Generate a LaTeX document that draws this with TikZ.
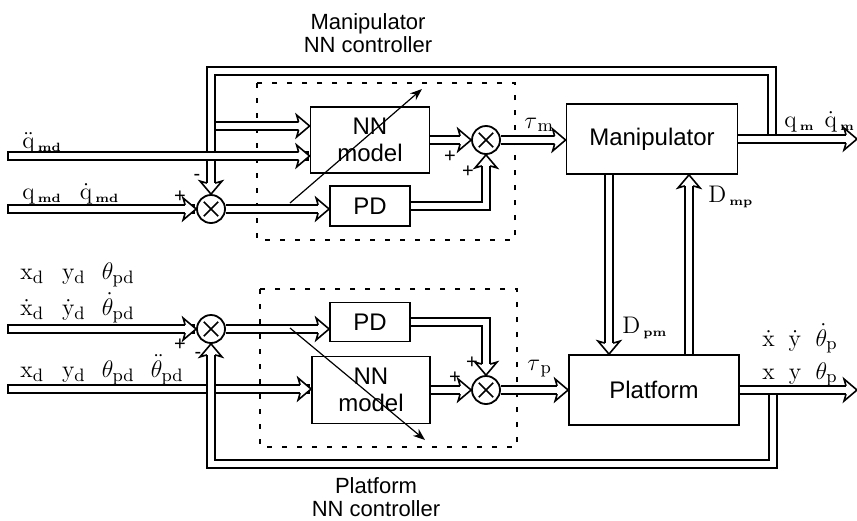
\documentclass[tikz,border=0pt]{standalone}
\usepackage[no-math]{fontspec}
\setmainfont{Liberation Sans}
\usepackage{amsmath}
\usetikzlibrary{arrows.meta,positioning,calc}

\tikzset{
  block/.style 2 args={draw,line width=0.9pt,minimum width=#1,minimum height=#2,
    inner sep=0pt,align=center,font=\fontsize{12}{13.5}\selectfont},
  summer/.style={draw,circle,line width=0.9pt,minimum size=14pt,inner sep=0pt,
    path picture={
      \draw[line width=0.8pt] ([shift={(-3.6pt,-3.6pt)}]path picture bounding box.center)
        -- ([shift={(3.6pt,3.6pt)}]path picture bounding box.center);
      \draw[line width=0.8pt] ([shift={(-3.6pt,3.6pt)}]path picture bounding box.center)
        -- ([shift={(3.6pt,-3.6pt)}]path picture bounding box.center);}},
  pipe/.style={double,double distance=3.4pt,line width=0.8pt,shorten >=3pt},
  head/.pic={
    \fill[white] (-5.5pt,2.6pt) -- (-6.5pt,5.5pt) -- (0pt,0pt) -- (-6.5pt,-5.5pt)
      -- (-5.5pt,-2.6pt) -- cycle;
    \draw[line width=0.8pt,line join=miter] (-5.5pt,2.1pt) -- (-6.5pt,5.5pt) -- (0pt,0pt)
      -- (-6.5pt,-5.5pt) -- (-5.5pt,-2.1pt);},
  tune/.style={line width=0.6pt,-{Stealth[length=6pt,width=4.5pt]}},
  ctrlbox/.style={line width=0.7pt,dash pattern=on 2.5pt off 5pt},
  lbl/.style={inner sep=0pt,anchor=base west,font=\fontsize{13}{14}\selectfont},
  sgn/.style={inner sep=0pt,font=\fontsize{10}{12}\selectfont},
  ttl/.style={align=center,inner sep=0pt,font=\fontsize{11}{11.5}\selectfont}
}
\newcommand{\rv}[1]{\mathrm{#1}}
\newcommand{\tinysub}[1]{_{\,\scriptscriptstyle\mathbf{#1}}}

\begin{document}
\begin{tikzpicture}[x=0.5pt,y=-0.5pt]
    \useasboundingbox (0,0) rectangle (857,520);

    % controller frames
    \draw[ctrlbox] (257,83) rectangle (515,240);
    \draw[ctrlbox] (260,289) rectangle (517,447);

    % manipulator loop
    \node[block={59.5pt}{33pt}] (nnA) at (370,140) {NN\\model};
    \node[block={40pt}{20pt}] (pdA) at (370,206) {PD};
    \node[summer] (sumA) at (211,209) {};
    \node[summer] (sumB) at (486,140) {};
    \node[block={85.5pt}{35pt}] (manip) at (652,139) {Manipulator};

    % platform loop
    \node[summer] (sumC) at (211,329) {};
    \node[block={40pt}{19.5pt}] (pdB) at (370,322) {PD};
    \node[block={59pt}{33.5pt}] (nnB) at (371,390) {NN\\model};
    \node[summer] (sumD) at (486,390) {};
    \node[block={85pt}{35pt}] (platf) at (654,390) {Platform};

    \coordinate (brA) at (211,126);
    \coordinate (fbA) at (772,71);
    \coordinate (qddA) at (12,156);
    \coordinate (qA) at (12,209);
    \coordinate (outA) at (857,0);
    \coordinate (pmx) at (609,0);
    \coordinate (mpx) at (689,0);
    \coordinate (xdC) at (12,329);
    \coordinate (xdB) at (12,389);
    \coordinate (fbB) at (773,464);

    \draw[pipe] (brA) -- (brA -| nnA.west);
    \pic at (brA -| nnA.west) {head};
    \draw[pipe] (manip.east -| fbA) -- (fbA) -| (sumA.north);
    \pic[rotate=-90] at (sumA.north) {head};
    \draw[pipe] (manip.east) -- (manip.east -| outA);
    \pic at (manip.east -| outA) {head};
    \draw[pipe,line cap=rect] (qddA) -- (qddA -| nnA.west);
    \pic at (qddA -| nnA.west) {head};
    \draw[pipe,line cap=rect] (qA) -- (sumA.west);
    \pic at (sumA.west) {head};
    \draw[pipe] (sumA.east) -- (sumA.east -| pdA.west);
    \pic at (sumA.east -| pdA.west) {head};
    \draw[pipe] (nnA.east) -- (sumB.west);
    \pic at (sumB.west) {head};
    \draw[pipe] (pdA.east) -| (sumB.south);
    \pic[rotate=90] at (sumB.south) {head};
    \draw[pipe] (sumB.east) -- (sumB.east -| manip.west);
    \pic at (sumB.east -| manip.west) {head};

    \draw[pipe] (manip.south -| pmx) -- (platf.north -| pmx);
    \pic[rotate=-90] at (platf.north -| pmx) {head};
    \draw[pipe] (platf.north -| mpx) -- (manip.south -| mpx);
    \pic[rotate=90] at (manip.south -| mpx) {head};

    \draw[pipe,line cap=rect] (xdC) -- (sumC.west);
    \pic at (sumC.west) {head};
    \draw[pipe] (sumC.east) -- (sumC.east -| pdB.west);
    \pic at (sumC.east -| pdB.west) {head};
    \draw[pipe,line cap=rect] (xdB) -- (xdB -| nnB.west);
    \pic at (xdB -| nnB.west) {head};
    \draw[pipe] (platf.east -| fbB) -- (fbB) -| (sumC.south);
    \pic[rotate=90] at (sumC.south) {head};
    \draw[pipe] (platf.east) -- (platf.east -| outA);
    \pic at (platf.east -| outA) {head};
    \draw[pipe] (nnB.east) -- (sumD.west);
    \pic at (sumD.west) {head};
    \draw[pipe] (pdB.east) -| (sumD.north);
    \pic[rotate=-90] at (sumD.north) {head};
    \draw[pipe] (sumD.east) -- (platf.west);
    \pic at (platf.west) {head};

    % weight tuning
    \coordinate (tnA1) at (290,203);
    \coordinate (tnA2) at (422,89);
    \coordinate (tnB1) at (290,328);
    \coordinate (tnB2) at (425,440);
    \draw[tune] (tnA1) -- (tnA2);
    \draw[tune] (tnB1) -- (tnB2);

    % signals
    \node[lbl] (lqdd) at (22,148) {$\ddot{\rv{q}}\tinysub{md}$};
    \node[lbl] (lq) at (22,199) {$\rv{q}\tinysub{md}\hspace{9pt}\dot{\rv{q}}\tinysub{md}$};
    \node[lbl] (ltm) at (524,128) {$\tau_{\,\rv{m}}$};
    \node[lbl] (lqm) at (784,127) {$\rv{q}\tinysub{m}\hspace{5pt}\dot{\rv{q}}\tinysub{m}$};
    \node[lbl] (ldmp) at (708,202) {$\rv{D}\tinysub{mp}$};
    \node[lbl] (ldpm) at (622,333) {$\rv{D}\tinysub{pm}$};
    \node[lbl] (lx1) at (20,279) {$\rv{x}_{\rv{d}}\hspace{9pt}\rv{y}_{\rv{d}}\hspace{8pt}\theta_{\rv{pd}}$};
    \node[lbl] (lx2) at (20,315) {$\dot{\rv{x}}_{\rv{d}}\hspace{9pt}\dot{\rv{y}}_{\rv{d}}\hspace{8pt}\dot{\theta}_{\rv{pd}}$};
    \node[lbl] (lx3) at (20,377) {$\rv{x}_{\rv{d}}\hspace{9pt}\rv{y}_{\rv{d}}\hspace{8pt}\theta_{\rv{pd}}\hspace{8pt}\ddot{\theta}_{\rv{pd}}$};
    \node[lbl] (ltp) at (527,370) {$\tau_{\,\rv{p}}$};
    \node[lbl] (lo1) at (762,346) {$\dot{\rv{x}}\hspace{7pt}\dot{\rv{y}}\hspace{7pt}\dot{\theta}_{\rv{p}}$};
    \node[lbl] (lo2) at (762,379) {$\rv{x}\hspace{7pt}\rv{y}\hspace{7pt}\theta_{\rv{p}}$};

    \node[sgn] (sA1) at (197,177) {-};
    \node[sgn] (sA2) at (180,197) {+};
    \node[sgn] (sB1) at (450,157) {+};
    \node[sgn] (sB2) at (468,172) {+};
    \node[sgn] (sC1) at (180,345) {+};
    \node[sgn] (sC2) at (198,355) {-};
    \node[sgn] (sD1) at (472,363) {+};
    \node[sgn] (sD2) at (455,378) {+};

    \node[ttl] (tA) at (368,33) {Manipulator\\NN controller};
    \node[ttl] (tB) at (376,497) {Platform\\NN controller};
\end{tikzpicture}
\end{document}
